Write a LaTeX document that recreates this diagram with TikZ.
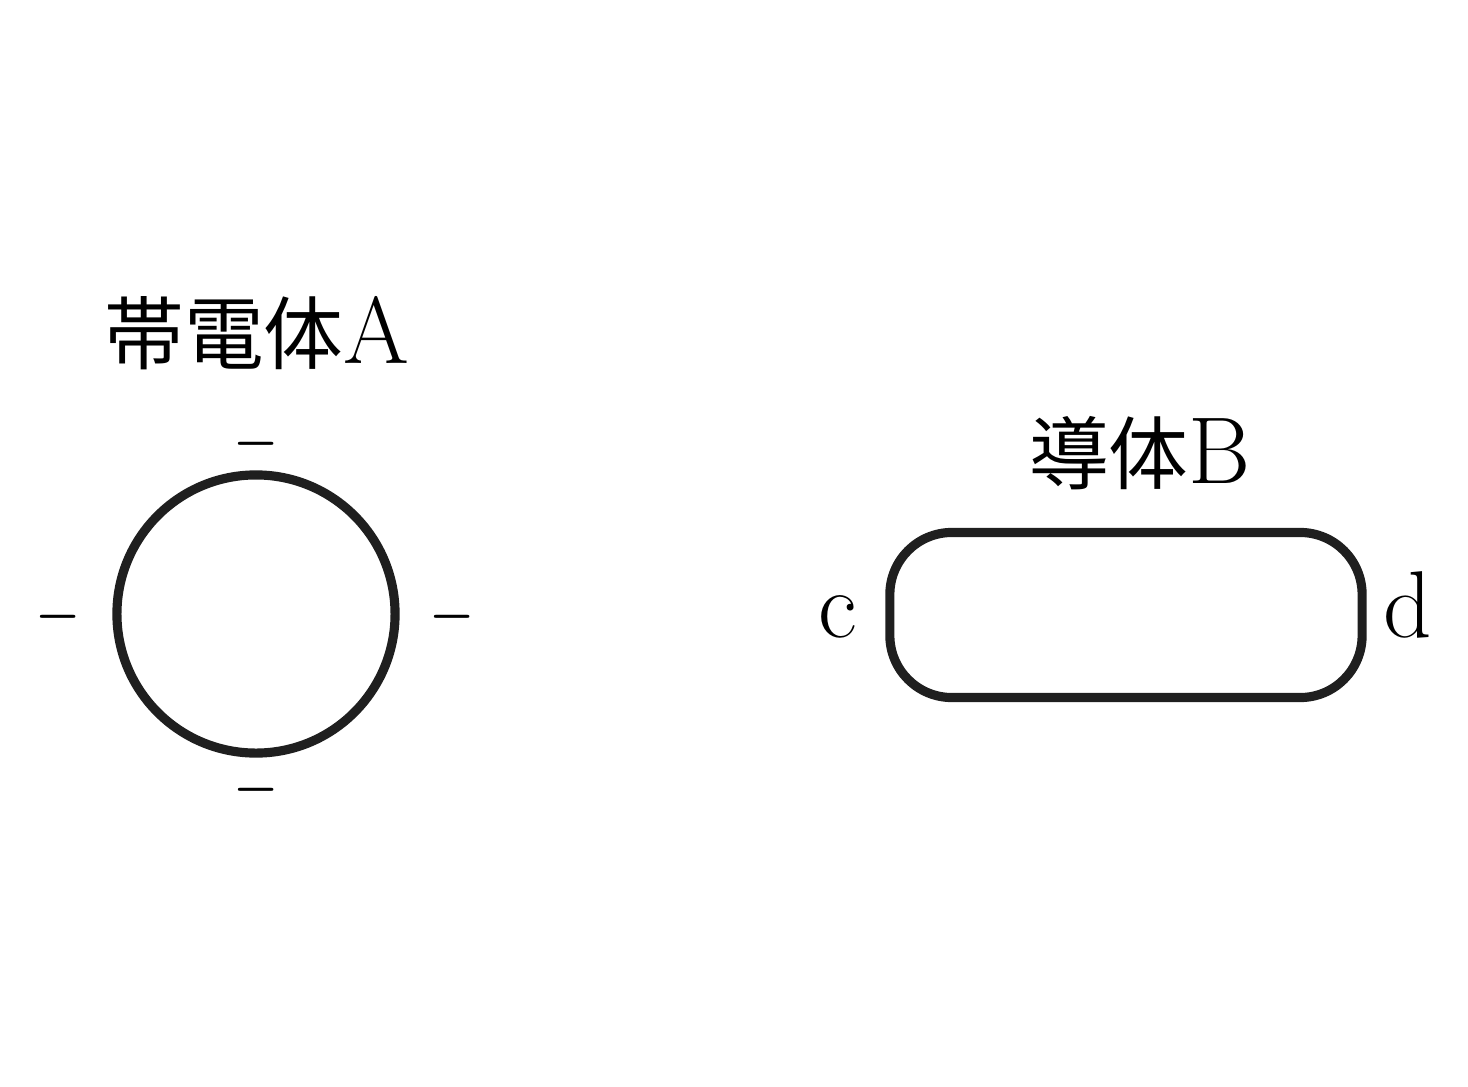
\documentclass[tikz,border=0pt]{standalone}
\usepackage{fontspec}
\newfontfamily\cjk[Scale=0.84]{Noto Sans CJK JP}
\usetikzlibrary{positioning}

\begin{document}
\begin{tikzpicture}[x=0.01cm, y=-0.01cm,
		body/.style={draw=black!88, line width=2.6pt, inner sep=0pt},
		lbl/.style={font=\fontsize{27}{32}\selectfont, inner sep=0pt, anchor=base},
		sgn/.style={font=\fontsize{15}{18}\selectfont\boldmath, inner sep=0pt}]
			%%%%% START %%%%%
			
			\useasboundingbox (0, 0) rectangle (1468, 1087);
			
			\node[body, circle, minimum size=2.78cm] (chargeA) at (256, 614) {};
			\node[lbl] (labelA) at (257, 363) {{\cjk 帯電体}A};
			
			\node[sgn] (mtop) at (256, 444) {$-$};
			\node[sgn] (mleft) at (58, 617) {$-$};
			\node[sgn] (mright) at (452, 617) {$-$};
			\node[sgn] (mbottom) at (256, 790) {$-$};
			
			\node[body, rectangle, rounded corners=0.62cm, minimum width=4.72cm, minimum height=1.65cm] (condB) at (1126, 615) {};
			\node[lbl] (labelB) at (1140, 483) {{\cjk 導体}B};
			
			\node[lbl] (endc) at (838, 637) {c};
			\node[lbl] (endd) at (1408, 637) {d};
			
			%%%%% END %%%%%
		\end{tikzpicture}
\end{document}
